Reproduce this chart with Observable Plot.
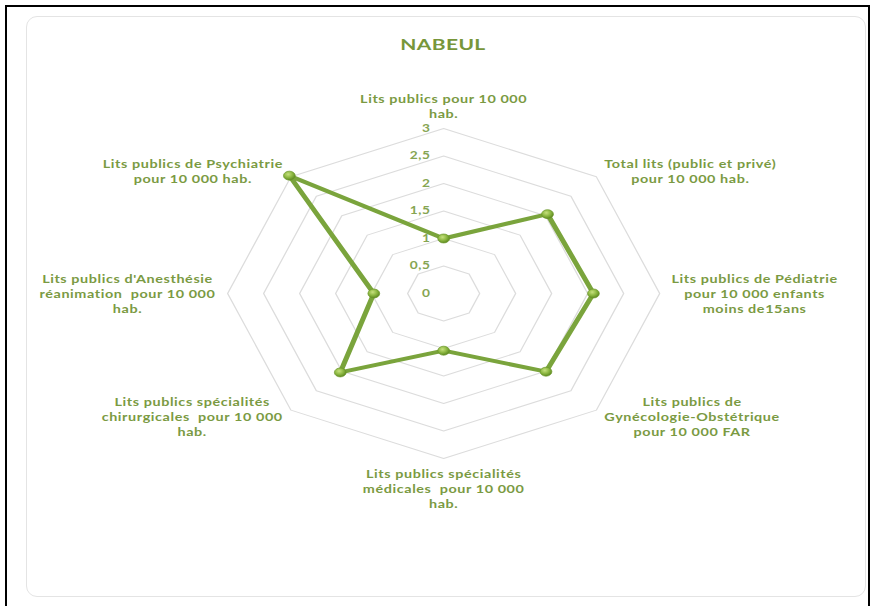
<!DOCTYPE html>
<html>
<head>
<meta charset="utf-8">
<script src="https://cdn.jsdelivr.net/npm/d3@7"></script>
<script src="https://cdn.jsdelivr.net/npm/@observablehq/plot@0.6"></script>
<style>
  html, body { margin: 0; padding: 0; background: #fff; }
  #wrap { position: relative; width: 872px; height: 606px; overflow: hidden; background: #fff; }
  #outer { position: absolute; left: 5px; top: 5px; width: 865px; height: 610px; border: 2px solid #000; border-bottom: none; box-sizing: border-box; }
  #card { position: absolute; left: 26px; top: 16px; width: 840px; height: 581px; border: 1.5px solid #e4e4e4; border-radius: 11px; box-sizing: border-box; }
  #stretch { position: absolute; left: 0; top: 0; height: 606px; transform-origin: 0 0; }
  #title { position: absolute; top: 34px; width: 200px; text-align: center; font: bold 16px Lato, "Open Sans", sans-serif; line-height: 20px; color: #77963A; letter-spacing: 0.3px; }
  #stretch svg { position: absolute; left: 0; top: 0; overflow: visible; }
  #stretch svg text { letter-spacing: 0.45px; }
</style>
</head>
<body>
<div id="wrap">
  <div id="outer"></div>
  <div id="card"></div>
  <div id="stretch"><div id="title">NABEUL</div></div>
</div>
<script>
// ---- data ----
const title = "NABEUL";
const categories = [
  "Lits publics pour 10 000\nhab.",
  "Total lits (public et privé)\npour 10 000 hab.",
  "Lits publics de Pédiatrie\npour 10 000 enfants\nmoins de15ans",
  "Lits publics de\nGynécologie-Obstétrique\npour 10 000 FAR",
  "Lits publics spécialités\nmédicales  pour 10 000\nhab.",
  "Lits publics spécialités\nchirurgicales  pour 10 000\nhab.",
  "Lits publics d'Anesthésie\nréanimation  pour 10 000\nhab.",
  "Lits publics de Psychiatrie\npour 10 000 hab."
];
const values = [1.0, 2.04, 2.08, 2.01, 1.04, 2.03, 0.97, 3.03];
const ticks = [0, 0.5, 1, 1.5, 2, 2.5, 3];

// ---- layout ----
const STRETCH = 1.3093;          // the original picture is stretched horizontally
const W = 872 / STRETCH, H = 606;
const cx = 443 / STRETCH, cy = 293, U = 55;   // px per unit
const rMax = d3.max(ticks);
const FS = 11, LH = 15, LS = 0.45;
const font = `bold ${FS}px Lato, "Open Sans", sans-serif`;
const green = "#7AA43C", textGreen = "#7A9A42";

const titleDiv = document.getElementById("title");
titleDiv.textContent = title;
titleDiv.style.left = (cx - 100) + "px";
const stretchDiv = document.getElementById("stretch");
stretchDiv.style.width = W + "px";
stretchDiv.style.transform = `scaleX(${STRETCH})`;

const n = categories.length;
const ang = i => i * 2 * Math.PI / n;
const toX = (r, i) => r * Math.sin(ang(i));
const toY = (r, i) => r * Math.cos(ang(i));

// ring grid
const rings = [];
ticks.filter(t => t > 0).forEach(t => {
  for (let i = 0; i <= n; i++) rings.push({r: t, x: toX(t, i % n), y: toY(t, i % n)});
});

// series
const series = values.map((v, i) => ({cat: categories[i], v, x: toX(v, i), y: toY(v, i)}));

// labels placed just outside the outer ring, using measured text sizes
const ctx = document.createElement("canvas").getContext("2d");
ctx.font = font;
const R = rMax * U;
const labels = categories.map((c, i) => {
  const s = Math.sin(ang(i)), co = Math.cos(ang(i));
  const vx = cx + R * s, vy = cy - R * co;
  const lines = c.split("\n");
  const w = d3.max(lines, l => ctx.measureText(l).width + LS * l.length);
  const h = lines.length * LH;
  let px, py;
  if (Math.abs(s) < 1e-6) {
    px = vx;
    py = co > 0 ? vy - 7.5 - h / 2 : vy + 7.5 + h / 2;
  } else {
    const gap = Math.abs(co) < 1e-6 ? 9 : 6;
    px = vx + Math.sign(s) * (gap + w / 2);
    py = Math.abs(co) < 1e-6 ? vy : vy - Math.sign(co) * 6;
  }
  return {label: c, x: (px - cx) / U, y: (cy - py) / U};
});

const defs = () => {
  const g = d3.create("svg:defs");
  const rg = g.append("radialGradient").attr("id", "dotGrad").attr("cx", "40%").attr("cy", "35%").attr("r", "65%");
  rg.append("stop").attr("offset", "0%").attr("stop-color", "#c6e07e");
  rg.append("stop").attr("offset", "55%").attr("stop-color", "#8db842");
  rg.append("stop").attr("offset", "100%").attr("stop-color", "#5f8a22");
  return g.node();
};

const chart = Plot.plot({
  width: W, height: H, margin: 0,
  style: {background: "transparent", overflow: "visible"},
  x: {domain: [-cx / U, (W - cx) / U], range: [0, W], axis: null},
  y: {domain: [-(H - cy) / U, cy / U], range: [H, 0], axis: null},
  marks: [
    defs,
    Plot.line(rings, {x: "x", y: "y", z: "r", stroke: "#dcdcdc", strokeWidth: 1}),
    Plot.text(ticks, {x: 0, y: d => d, text: d => String(d).replace(".", ","), textAnchor: "end", dx: -10,
      fill: "#86a552", fontSize: 10.5, fontWeight: "bold", fontFamily: "Lato, 'Open Sans', sans-serif"}),
    Plot.line(series, {x: "x", y: "y", curve: "linear-closed", stroke: green, strokeWidth: 4, strokeLinejoin: "round"}),
    Plot.dot(series, {x: "x", y: "y", r: 4.5, fill: "url(#dotGrad)", stroke: "#6a9628", strokeWidth: 0.6}),
    Plot.text(labels, {x: "x", y: "y", text: "label", textAnchor: "middle", lineHeight: LH / FS,
      fill: textGreen, fontSize: FS, fontWeight: "bold", fontFamily: "Lato, 'Open Sans', sans-serif"})
  ]
});
stretchDiv.appendChild(chart);
</script>
</body>
</html>
